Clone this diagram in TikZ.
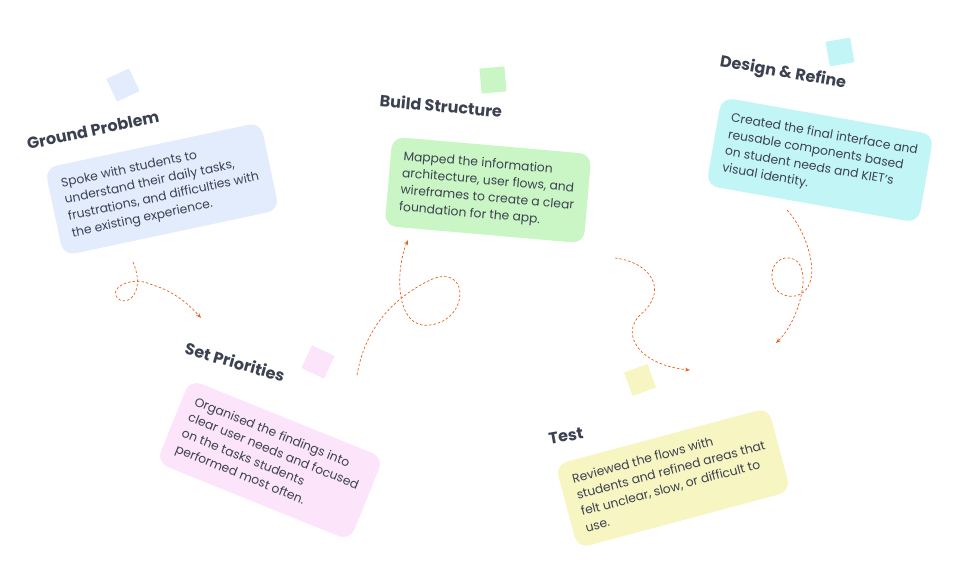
\documentclass[tikz,border=0pt]{standalone}
\usepackage{fontspec}
\setmainfont{Poppins}
\usetikzlibrary{positioning,arrows.meta}
\definecolor{inkgray}{HTML}{3B4150}
\definecolor{flow}{HTML}{E8601C}
\definecolor{cblue}{HTML}{E3ECFD}
\definecolor{cpink}{HTML}{FCE4FA}
\definecolor{cgreen}{HTML}{CAF6C5}
\definecolor{ccyan}{HTML}{C2F5F6}
\definecolor{cyellow}{HTML}{F7F5C2}
\tikzset{
  card/.style={rounded corners=12pt, inner sep=13pt, align=left, text=inkgray,
    font=\fontsize{12.3}{17}\selectfont},
  title/.style={text=inkgray, font=\fontsize{16}{17}\selectfont\bfseries},
  tag/.style={minimum size=25pt, inner sep=0pt},
  flow/.style={draw=flow, dashed, dash pattern=on 2.5pt off 2pt, line width=0.7pt, -{Stealth[length=5pt]}}
}
\begin{document}
\begin{tikzpicture}[x=1pt,y=-1pt]
\useasboundingbox (0,0) rectangle (975,576);
% cards
\node [card, fill=cblue, rotate=12] (ground) at (162,189) {Spoke with students to\\understand their daily tasks,\\frustrations, and difficulties with\\the existing experience.};
\node [card, fill=cpink, rotate=-22] (priorities) at (270,460) {Organised the findings into\\clear user needs and focused\\on the tasks students\\performed most often.};
\node [card, fill=cgreen, rotate=-5] (build) at (488,190) {Mapped the information\\architecture, user flows, and\\wireframes to create a clear\\foundation for the app.};
\node [card, fill=ccyan, rotate=-10] (design) at (820,160) {Created the final interface and\\reusable components based\\on student needs and KIET’s\\visual identity.};
\node [card, fill=cyellow, rotate=15] (test) at (673,478) {Reviewed the flows with\\students and refined areas that\\felt unclear, slow, or difficult to\\use.};
% titles
\node [title, rotate=12] (groundT) at (93,130) {Ground Problem};
\node [title, rotate=-16] (prioritiesT) at (235,362) {Set Priorities};
\node [title, rotate=-5] (buildT) at (441,106) {Build Structure};
\node [title, rotate=-10] (designT) at (783,73) {Design \& Refine};
\node [title, rotate=10] (testT) at (566,436) {Test};
% tags
\node [tag, fill=cblue, rotate=25] (groundS) at (123,85) {};
\node [tag, fill=cpink, rotate=-25] (prioritiesS) at (318,362) {};
\node [tag, fill=cgreen, rotate=5] (buildS) at (493,80) {};
\node [tag, fill=ccyan, rotate=10] (designS) at (840,52) {};
\node [tag, fill=cyellow, rotate=20] (testS) at (640,380) {};
% flows
\coordinate (a1) at (133,262); \coordinate (a2) at (201,318);
\coordinate (b1) at (357,375); \coordinate (b2) at (408,240);
\coordinate (c1) at (615,258); \coordinate (c2) at (690,370);
\coordinate (d1) at (787,210); \coordinate (d2) at (776,343);
\draw [flow] (a1) .. controls (145,290) and (130,305) .. (120,300)
  .. controls (105,290) and (130,275) .. (150,284) .. controls (170,290) and (185,300) .. (a2);
\draw [flow] (b1) .. controls (365,330) and (390,300) .. (430,280)
  .. controls (470,262) and (470,320) .. (430,325) .. controls (395,330) and (395,270) .. (b2);
\draw [flow] (c1) .. controls (650,262) and (670,290) .. (640,315)
  .. controls (620,335) and (640,365) .. (c2);
\draw [flow] (d1) .. controls (810,235) and (825,290) .. (795,296)
  .. controls (765,300) and (765,255) .. (790,258) .. controls (815,262) and (800,320) .. (d2);
\end{tikzpicture}
\end{document}
